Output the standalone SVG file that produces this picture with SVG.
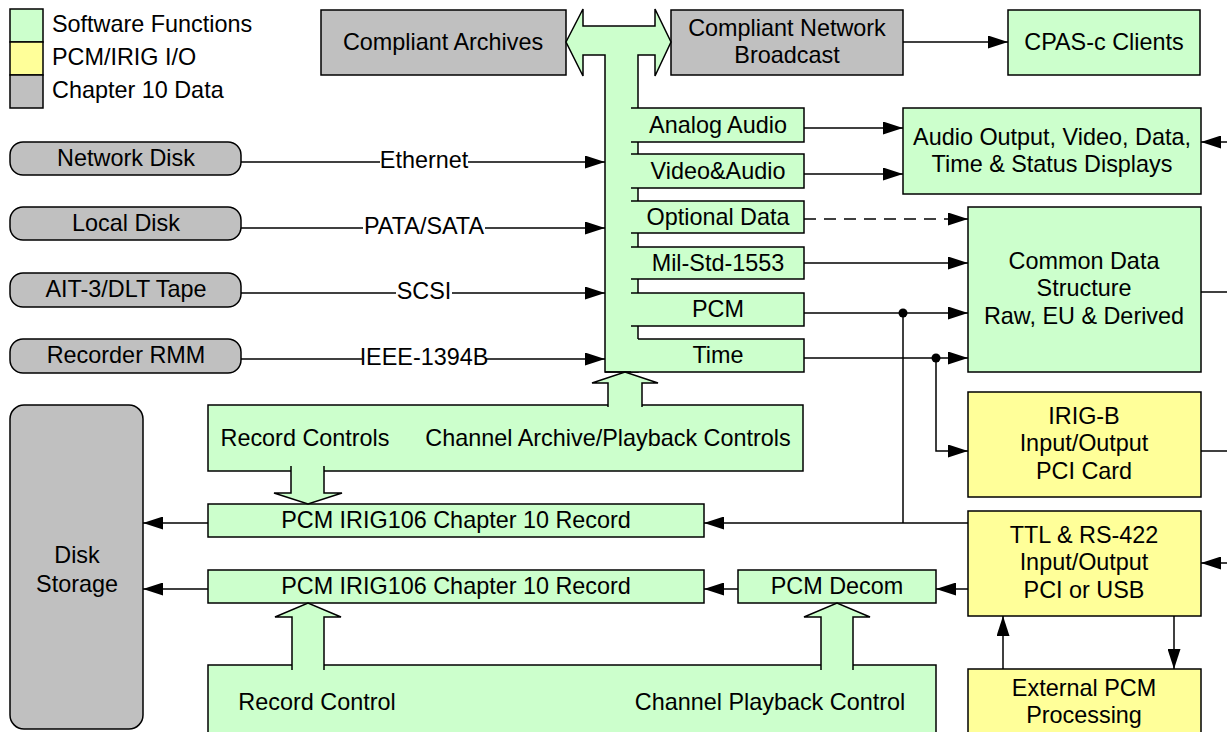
<svg xmlns="http://www.w3.org/2000/svg" width="1227" height="732" viewBox="0 0 1227 732">
<defs>
<marker id="ah" viewBox="0 0 20 13" refX="20" refY="6.5" markerWidth="20" markerHeight="13" markerUnits="userSpaceOnUse" orient="auto"><path d="M0,0 L20,6.5 L0,13 z" fill="#000"/></marker>
<style>
text{font-family:"Liberation Sans",Arial,sans-serif;font-size:23.4px;fill:#000;text-anchor:middle}
.lg{text-anchor:start}
.g{fill:#CCFFCC;stroke:#000;stroke-width:1.5}
.y{fill:#FFFF99;stroke:#000;stroke-width:1.5}
.k{fill:#C0C0C0;stroke:#000;stroke-width:1.5}
.gf{fill:#CCFFCC;stroke:none}
.ln{fill:none;stroke:#000;stroke-width:1.5}
.ar{fill:none;stroke:#000;stroke-width:1.5;marker-end:url(#ah)}
.da{stroke-dasharray:12 8}
.lb{fill:#fff;stroke:none}
</style>
</defs>
<rect width="1227" height="732" fill="#fff"/>

<g id="legend">
<rect class="g" x="10" y="9" width="33" height="33"/>
<rect class="y" x="10" y="42" width="33" height="33"/>
<rect class="k" x="10" y="75" width="33" height="33"/>
<text class="lg" x="52" y="32">Software Functions</text>
<text class="lg" x="52" y="65">PCM/IRIG I/O</text>
<text class="lg" x="52" y="98">Chapter 10 Data</text>
</g>

<g id="compliant-archives"><rect class="k" x="321" y="10" width="245" height="65"/><text x="443" y="50">Compliant Archives</text></g>
<g id="compliant-network-broadcast"><rect class="k" x="671" y="10" width="232" height="65"/><text x="787" y="36">Compliant Network</text><text x="787" y="63">Broadcast</text></g>
<g id="cpas-clients"><rect class="g" x="1008" y="10" width="192" height="65"/><text x="1104" y="50">CPAS-c Clients</text></g>

<g id="network-disk"><rect class="k" x="10" y="142" width="231" height="33" rx="13"/><text x="126" y="166">Network Disk</text></g>
<g id="local-disk"><rect class="k" x="10" y="207" width="231" height="33" rx="13"/><text x="126" y="231">Local Disk</text></g>
<g id="tape"><rect class="k" x="10" y="273" width="231" height="34" rx="13"/><text x="126" y="297">AIT-3/DLT Tape</text></g>
<g id="recorder-rmm"><rect class="k" x="10" y="339" width="231" height="34" rx="13"/><text x="126" y="363">Recorder RMM</text></g>

<g id="disk-storage"><rect class="k" x="10" y="405" width="133" height="324" rx="14"/><text x="77" y="563">Disk</text><text x="77" y="592">Storage</text></g>

<g id="audio-displays"><rect class="g" x="903" y="108" width="298" height="86"/><text x="1052" y="145">Audio Output, Video, Data,</text><text x="1052" y="172">Time &amp; Status Displays</text></g>
<g id="common-data"><rect class="g" x="968" y="207" width="233" height="165"/><text x="1084" y="269">Common Data</text><text x="1084" y="296">Structure</text><text x="1084" y="324">Raw, EU &amp; Derived</text></g>
<g id="irig-b"><rect class="y" x="968" y="392" width="233" height="105"/><text x="1084" y="424">IRIG-B</text><text x="1084" y="451">Input/Output</text><text x="1084" y="479">PCI Card</text></g>
<g id="ttl-rs422"><rect class="y" x="968" y="511" width="233" height="105"/><text x="1084" y="543">TTL &amp; RS-422</text><text x="1084" y="570">Input/Output</text><text x="1084" y="598">PCI or USB</text></g>
<g id="external-pcm"><rect class="y" x="968" y="669" width="233" height="75"/><text x="1084" y="696">External PCM</text><text x="1084" y="723">Processing</text></g>

<g id="record-controls"><rect class="g" x="208" y="405" width="595" height="66"/><text x="305" y="446">Record Controls</text><text x="608" y="446">Channel Archive/Playback Controls</text></g>
<g id="pcm-record-1"><rect class="g" x="208" y="504" width="496" height="33"/><text x="456" y="528">PCM IRIG106 Chapter 10 Record</text></g>
<g id="pcm-record-2"><rect class="g" x="208" y="570" width="496" height="33"/><text x="456" y="594">PCM IRIG106 Chapter 10 Record</text></g>
<g id="pcm-decom"><rect class="g" x="738" y="570" width="198" height="33"/><text x="837" y="594">PCM Decom</text></g>
<g id="playback-controls"><rect class="g" x="208" y="665" width="728" height="80"/><text x="317" y="710">Record Control</text><text x="770" y="710">Channel Playback Control</text></g>

<g id="bus">
<path class="g" d="M566,42 L583,9 L583,26 L655,26 L655,9 L671,42 L655,76 L655,55 L638,55 L638,372 L605,372 L605,55 L583,55 L583,76 Z"/>
<g id="tab-analog-audio"><rect class="gf" x="631" y="108" width="173" height="34"/><path class="ln" d="M631,108 H804 V142 H631"/><text x="718" y="133">Analog Audio</text></g>
<g id="tab-video-audio"><rect class="gf" x="631" y="154" width="173" height="34"/><path class="ln" d="M631,154 H804 V188 H631"/><text x="718" y="179">Video&amp;Audio</text></g>
<g id="tab-optional-data"><rect class="gf" x="631" y="201" width="173" height="32"/><path class="ln" d="M631,201 H804 V233 H631"/><text x="718" y="225">Optional Data</text></g>
<g id="tab-mil-std"><rect class="gf" x="631" y="247" width="173" height="32"/><path class="ln" d="M631,247 H804 V279 H631"/><text x="718" y="271">Mil-Std-1553</text></g>
<g id="tab-pcm"><rect class="gf" x="631" y="293" width="173" height="33"/><path class="ln" d="M631,293 H804 V326 H631"/><text x="718" y="317">PCM</text></g>
<g id="tab-time"><rect class="gf" x="631" y="339" width="173" height="33"/><path class="ln" d="M638,339 H804 V372 H605"/><text x="718" y="363">Time</text></g>
</g>

<g id="block-arrows">
<path class="gf" d="M608,407 V383 H592 L625,372 L658,383 H642 V407 Z"/>
<path class="ln" d="M608,407 V383 H592 L625,372 L658,383 H642 V407"/>
<path class="gf" d="M291,466 V493 H274 L308,504 L342,493 H324 V466 Z"/>
<path class="ln" d="M291,466 V493 H274 L308,504 L342,493 H324 V466"/>
<path class="gf" d="M292,670 V617 H275 L308,603 L341,617 H324 V670 Z"/>
<path class="ln" d="M292,670 V617 H275 L308,603 L341,617 H324 V670"/>
<path class="gf" d="M821,670 V617 H804 L837,603 L870,617 H853 V670 Z"/>
<path class="ln" d="M821,670 V617 H804 L837,603 L870,617 H853 V670"/>
</g>

<g id="connectors">
<path class="ar" d="M903,42 H1008"/>
<path class="ar" d="M804,128 H903"/>
<path class="ar" d="M804,174 H903"/>
<path class="ar da" d="M804,219 H968"/>
<path class="ar" d="M804,263 H968"/>
<path class="ar" d="M804,313 H968"/>
<path class="ar" d="M804,358 H968"/>
<path class="ar" d="M936,358 V451 H968"/>
<path class="ln" d="M903,313 V523"/>
<circle cx="903" cy="313" r="4.5" fill="#000"/>
<circle cx="936" cy="358" r="4.5" fill="#000"/>
<path class="ar" d="M968,523 H704"/>
<path class="ar" d="M968,589 H936"/>
<path class="ar" d="M738,589 H704"/>
<path class="ar" d="M208,523 H143"/>
<path class="ar" d="M208,589 H143"/>
<path class="ar" d="M1227,142 H1201"/>
<path class="ln" d="M1201,292 H1227"/>
<path class="ln" d="M1201,451 H1227"/>
<path class="ar" d="M1227,563 H1201"/>
<path class="ar" d="M1003,669 V616"/>
<path class="ar" d="M1174,616 V669"/>
<path class="ar" d="M241,162 H605"/>
<path class="ar" d="M241,228 H605"/>
<path class="ar" d="M241,293 H605"/>
<path class="ar" d="M241,359 H605"/>
<rect class="lb" x="380" y="150" width="88" height="22"/>
<text x="424" y="168">Ethernet</text>
<rect class="lb" x="363" y="216" width="122" height="22"/>
<text x="424" y="234">PATA/SATA</text>
<rect class="lb" x="396" y="281" width="56" height="22"/>
<text x="424" y="299">SCSI</text>
<rect class="lb" x="362" y="347" width="124" height="22"/>
<text x="424" y="365">IEEE-1394B</text>
</g>
</svg>
